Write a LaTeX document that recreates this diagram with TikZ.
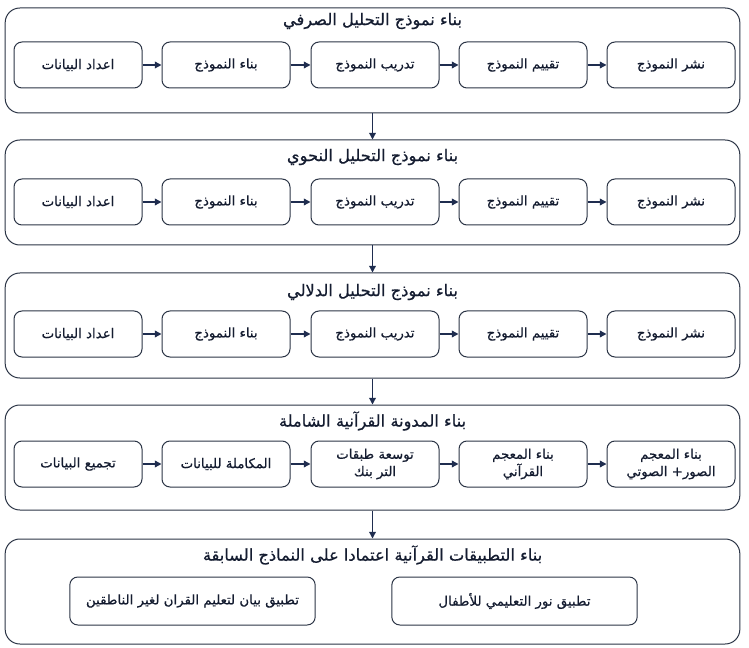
\documentclass[tikz,border=0pt]{standalone}
\usepackage{fontspec}
\setmainfont{Liberation Sans}
\newfontfamily\arabicfont[Script=Arabic,FakeBold=0.6]{DejaVu Sans}
\TeXXeTstate=1
\usepackage{xcolor}
\usetikzlibrary{arrows.meta}
\definecolor{boxline}{HTML}{2B3445}
\definecolor{navy}{HTML}{1F2D4F}
\definecolor{inktext}{HTML}{141C30}
\newcommand{\artext}[1]{{\arabicfont\beginR #1\endR}}

\begin{document}
\begin{tikzpicture}[x=0.75pt, y=-0.75pt, >={Triangle[length=5pt,width=5pt]},
    stage/.style={draw=boxline, line width=0.75pt, rounded corners=11pt,
        minimum width=551pt, minimum height=78.75pt},
    stagetitle/.style={inner sep=1pt, text=inktext, font=\fontsize{12.2}{14}\selectfont},
    task/.style={draw=boxline, line width=0.75pt, rounded corners=6pt,
        minimum width=96pt, minimum height=34.5pt, align=center, inner sep=1pt,
        text=inktext, font=\fontsize{10}{13}\selectfont},
    app/.style={task, minimum width=184pt, minimum height=36pt},
    flow/.style={->, navy, line width=1pt}]
\useasboundingbox (0,0) rectangle (749,648);

% outer stages
\foreach \r/\y in {1/60.5, 2/192.5, 3/325.5, 4/457.5, 5/591.5}
    \node[stage] (s\r) at (372.5,\y) {};

\node[stagetitle] (t1) at (372.5,21)  {\artext{بناء نموذج التحليل الصرفي}};
\node[stagetitle] (t2) at (372.5,157) {\artext{بناء نموذج التحليل النحوي}};
\node[stagetitle] (t3) at (372.5,292) {\artext{بناء نموذج التحليل الدلالي}};
\node[stagetitle] (t4) at (372.5,421) {\artext{بناء المدونة القرآنية الشاملة}};
\node[stagetitle] (t5) at (372.5,555) {\artext{بناء التطبيقات القرآنية اعتمادا على النماذج السابقة}};

% model pipelines
\foreach \r/\y in {1/65, 2/202, 3/334}{
    \node[task] (m\r-1) at (78,\y)  {\artext{اعداد البيانات}};
    \node[task] (m\r-2) at (226,\y) {\artext{بناء النموذج}};
    \node[task] (m\r-3) at (375,\y) {\artext{تدريب النموذج}};
    \node[task] (m\r-4) at (523,\y) {\artext{تقييم النموذج}};
    \node[task] (m\r-5) at (671,\y) {\artext{نشر النموذج}};
    \foreach \a/\b in {1/2, 2/3, 3/4, 4/5}
        \draw[flow] (m\r-\a) -- (m\r-\b);
}

% corpus
\node[task] (c1) at (78,464)  {\artext{تجميع البيانات}};
\node[task] (c2) at (226,464) {\artext{المكاملة للبيانات}};
\node[task] (c3) at (375,464) {\artext{توسعة طبقات}\\\artext{التر بنك}};
\node[task] (c4) at (523,464) {\artext{بناء المعجم}\\\artext{القرآني}};
\node[task] (c5) at (671,464) {\artext{بناء المعجم}\\\artext{الصور\beginL+\endL{} الصوتي}};
\foreach \a/\b in {1/2, 2/3, 3/4, 4/5}
    \draw[flow] (c\a) -- (c\b);

% applications
\node[app] (a1) at (192.5,601) {\artext{تطبيق بيان لتعليم القران لغير الناطقين}};
\node[app] (a2) at (514.5,601) {\artext{تطبيق نور التعليمي للأطفال}};

% stage links
\foreach \a/\b in {1/2, 2/3, 3/4, 4/5}
    \draw[flow] (s\a) -- (s\b);
\end{tikzpicture}
\end{document}
